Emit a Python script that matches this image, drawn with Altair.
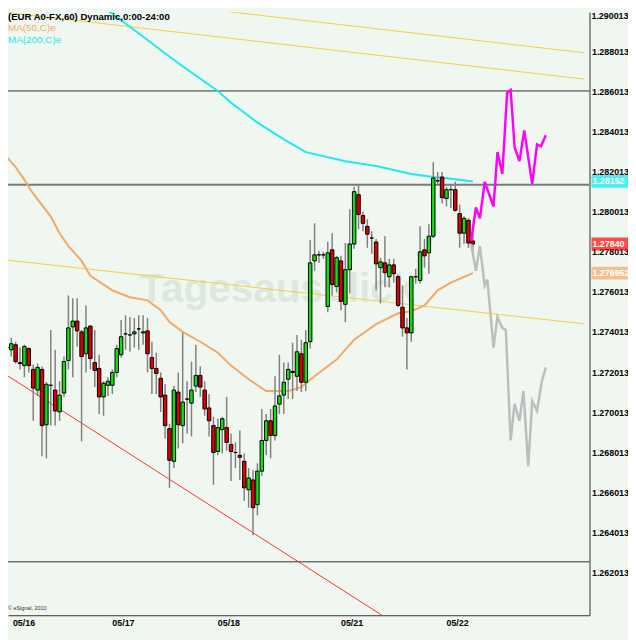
import altair as alt
import pandas as pd

# ---------------- data ----------------
idx = list(range(107))
opens = [1.27324, 1.27313, 1.27338, 1.27244, 1.27234, 1.27319, 1.27215, 1.27112, 1.27215, 1.26939,
         1.27136, 1.27112, 1.27003, 1.27097, 1.27259, 1.27427, 1.27456, 1.27402, 1.27293, 1.27431,
         1.27249, 1.27220, 1.27078, 1.27136, 1.27136, 1.27200, 1.27288, 1.27392, 1.27387, 1.27392,
         1.27417, 1.27397, 1.27407, 1.27274, 1.27220, 1.27171, 1.27087, 1.26920, 1.26757, 1.27102,
         1.26935, 1.27067, 1.27047, 1.27132, 1.27185, 1.27112, 1.27023, 1.26935, 1.26806, 1.26915,
         1.26925, 1.26841, 1.26801, 1.26787, 1.26757, 1.26615, 1.26664, 1.26541, 1.26708, 1.26861,
         1.26959, 1.26886, 1.27042, 1.27087, 1.27166, 1.27205, 1.27181, 1.27293, 1.27151, 1.27353,
         1.27756, 1.27786, 1.27786, 1.27529, 1.27811, 1.27628, 1.27756, 1.27539, 1.27712, 1.27840,
         1.28086, 1.27982, 1.27928, 1.27870, 1.27850, 1.27722, 1.27746, 1.27677, 1.27736, 1.27677,
         1.27525, 1.27422, 1.27397, 1.27677, 1.27658, 1.27811, 1.27796, 1.27879, 1.28155, 1.28174,
         1.28067, 1.28111, 1.28111, 1.27992, 1.27894, 1.27958, 1.27855]
highs = [1.27348, 1.27373, 1.27353, 1.27324, 1.27338, 1.27324, 1.27239, 1.27244, 1.27230, 1.27151,
         1.27412, 1.27313, 1.27156, 1.27279, 1.27584, 1.27570, 1.27570, 1.27412, 1.27534, 1.27436,
         1.27412, 1.27288, 1.27156, 1.27176, 1.27215, 1.27338, 1.27461, 1.27485, 1.27476, 1.27471,
         1.27485, 1.27485, 1.27471, 1.27353, 1.27298, 1.27200, 1.27141, 1.26944, 1.27132, 1.27200,
         1.27397, 1.27156, 1.27254, 1.27338, 1.27230, 1.27156, 1.27092, 1.26979, 1.26969, 1.26979,
         1.27078, 1.26895, 1.26851, 1.26910, 1.26796, 1.26723, 1.26713, 1.26747, 1.27018, 1.26993,
         1.27018, 1.27181, 1.27288, 1.27249, 1.27249, 1.27348, 1.27387, 1.27363, 1.27412, 1.27860,
         1.27943, 1.27806, 1.27801, 1.27850, 1.27894, 1.27781, 1.27781, 1.27845, 1.28013, 1.28125,
         1.28130, 1.28002, 1.27963, 1.27904, 1.27865, 1.27772, 1.27879, 1.27766, 1.27766, 1.27687,
         1.27633, 1.27471, 1.27682, 1.27717, 1.27928, 1.27865, 1.27938, 1.28248, 1.28199, 1.28199,
         1.28125, 1.28135, 1.28150, 1.28037, 1.27978, 1.27968, 1.27904]
lows = [1.27303, 1.27279, 1.27244, 1.27215, 1.27176, 1.27200, 1.26959, 1.27083, 1.26782, 1.26772,
        1.26935, 1.26935, 1.26959, 1.27078, 1.27215, 1.27176, 1.27329, 1.26856, 1.27200, 1.27215,
        1.27127, 1.26993, 1.26984, 1.27083, 1.27092, 1.27176, 1.27274, 1.27313, 1.27303, 1.27324,
        1.27313, 1.27338, 1.27200, 1.27092, 1.27092, 1.27003, 1.26871, 1.26625, 1.26723, 1.26821,
        1.26846, 1.26895, 1.26881, 1.27102, 1.27078, 1.26984, 1.26881, 1.26640, 1.26787, 1.26796,
        1.26811, 1.26659, 1.26723, 1.26664, 1.26560, 1.26526, 1.26389, 1.26487, 1.26684, 1.26787,
        1.26772, 1.26861, 1.26993, 1.26993, 1.27067, 1.27067, 1.27107, 1.27102, 1.27107, 1.27319,
        1.27707, 1.27746, 1.27766, 1.27500, 1.27584, 1.27599, 1.27510, 1.27451, 1.27594, 1.27816,
        1.27914, 1.27904, 1.27821, 1.27791, 1.27609, 1.27544, 1.27624, 1.27624, 1.27648, 1.27525,
        1.27378, 1.27215, 1.27353, 1.27643, 1.27643, 1.27722, 1.27692, 1.27870, 1.28140, 1.28042,
        1.28027, 1.28018, 1.28002, 1.27821, 1.27840, 1.27821, 1.27796]
closes = [1.27324, 1.27343, 1.27254, 1.27249, 1.27329, 1.27234, 1.27122, 1.27225, 1.26935, 1.27141,
          1.27136, 1.27008, 1.27087, 1.27254, 1.27422, 1.27456, 1.27407, 1.27279, 1.27422, 1.27269,
          1.27210, 1.27078, 1.27146, 1.27156, 1.27200, 1.27319, 1.27378, 1.27392, 1.27387, 1.27402,
          1.27417, 1.27402, 1.27293, 1.27220, 1.27195, 1.27078, 1.26935, 1.26762, 1.27112, 1.26939,
          1.27052, 1.27067, 1.27112, 1.27185, 1.27127, 1.27018, 1.26959, 1.26801, 1.26925, 1.26969,
          1.26851, 1.26806, 1.26801, 1.26777, 1.26625, 1.26674, 1.26526, 1.26708, 1.26861, 1.26959,
          1.26886, 1.27033, 1.27083, 1.27151, 1.27215, 1.27200, 1.27303, 1.27151, 1.27348, 1.27746,
          1.27786, 1.27786, 1.27786, 1.27796, 1.27638, 1.27772, 1.27554, 1.27712, 1.27840, 1.28101,
          1.27987, 1.27943, 1.27889, 1.27870, 1.27741, 1.27751, 1.27697, 1.27736, 1.27692, 1.27534,
          1.27422, 1.27397, 1.27677, 1.27677, 1.27801, 1.27781, 1.27879, 1.28169, 1.28155, 1.28071,
          1.28111, 1.28111, 1.28008, 1.27894, 1.27968, 1.27845, 1.27840]

ma50_idx = [0, 2, 4, 6, 10, 12, 14, 17, 19, 24, 28, 32, 35, 37, 40, 44, 48, 51, 55, 59,
            64, 67, 70, 75, 79, 84, 89, 92, 95, 98, 101, 106]
ma50_val = [1.28273, 1.28224, 1.28160, 1.28091, 1.27977, 1.27894, 1.27830, 1.27756, 1.27682, 1.27609,
            1.27575, 1.27559, 1.27510, 1.27451, 1.27402, 1.27353, 1.27298, 1.27234, 1.27166, 1.27107,
            1.27107, 1.27127, 1.27181, 1.27264, 1.27363, 1.27441, 1.27495, 1.27505, 1.27534, 1.27609,
            1.27648, 1.27695]
ma200_idx = [18, 21, 28, 39, 48, 51, 57, 63, 68, 77, 84, 88, 92, 97, 101, 106]
ma200_val = [1.29080, 1.29036, 1.28923, 1.28741, 1.28603, 1.28544, 1.28445, 1.28362, 1.28298, 1.28253,
             1.28229, 1.28209, 1.28189, 1.28174, 1.28165, 1.28152]

bull_idx = [105.6, 106.7, 107.6, 108.7, 110.7, 111.6, 112.7, 113.8, 114.6, 115.5, 116.6, 117.7,
            119.5, 120.6, 121.5, 122.6]
bull_val = [1.27855, 1.28022, 1.27968, 1.28150, 1.28027, 1.28298, 1.28189, 1.28593, 1.28608, 1.28322,
            1.28253, 1.28406, 1.28140, 1.28337, 1.28327, 1.28382]
bear_idx = [105.6, 106.7, 107.6, 108.7, 109.3, 110.7, 111.6, 112.7, 113.5, 114.6, 115.5, 116.6,
            117.5, 118.6, 119.5, 120.6, 121.7, 122.6]
bear_val = [1.27840, 1.27707, 1.27830, 1.27633, 1.27663, 1.27324, 1.27476, 1.27422, 1.27412, 1.26861,
            1.27043, 1.26959, 1.27107, 1.26733, 1.27058, 1.27009, 1.27156, 1.27225]

channel_idx = [-0.375, 131.4]
channel_a = [1.29127, 1.28793]
channel_b = [1.28995, 1.28662]
channel_c = [1.27761, 1.27442]
trend_idx = [-0.375, 85.3]
trend_val = [1.27191, 1.25990]

hline_dark = [1.28603, 1.26256]
hline_gray = [1.28135]

ytick_vals = [1.262013, 1.264013, 1.266013, 1.268013, 1.270013, 1.272013, 1.274013,
              1.276013, 1.278013, 1.280013, 1.282013, 1.284013, 1.286013, 1.288013, 1.290013]
day_idx = [0, 24, 48, 76, 100]
day_lab = ["05/16", "05/17", "05/18", "05/21", "05/22"]

box_val = [1.28152, 1.27840, 1.276952]
box_lab = ["1.28152", "1.27840", "1.276952"]
box_col = ["#00eeee", "#ff0000", "#f4a866"]

header_txt = "(EUR A0-FX,60) Dynamic,0:00-24:00"
legend_txt = ["MA(50,C)e", "MA(200,C)e"]
legend_col = ["#f4a866", "#20e8ee"]
copyright_txt = "\u00a9 eSignal, 2010"

# ---------------- chart ----------------
BG = "#f0f7f0"
FONT = "Liberation Sans"
XD = [1.391, 131.41]
YD = [1.259897, 1.289964]
xs = alt.Scale(domain=XD, nice=False, zero=False)
ys = alt.Scale(domain=YD, nice=False, zero=False)

X_AX = alt.Axis(orient="bottom", values=[24], labels=False, ticks=False, grid=False, title=None,
                domain=True, domainColor="#303030", domainWidth=1)
Y_AX = alt.Axis(orient="right", values=ytick_vals[:-1], labelExpr="format(datum.value, '.6f')",
                labelFont=FONT, labelFontWeight="bold", labelFontSize=9, labelColor="#000000",
                ticks=False, labelPadding=2, grid=False, title=None, labelFlush=False,
                labelOverlap=False, domain=True, domainColor="#303030", domainWidth=1)

candles = pd.DataFrame({"i": idx, "o": opens, "h": highs, "l": lows, "c": closes})
candles["dir"] = ["up" if c > o else ("down" if c < o else "flat") for o, c in zip(opens, closes)]


def line_df(xv, yv):
    return pd.DataFrame({"i": xv, "p": yv})


def line_layer(df, color, width):
    return alt.Chart(df).mark_line(color=color, strokeWidth=width, clip=True).encode(
        x=alt.X("i:Q", scale=xs, axis=X_AX),
        y=alt.Y("p:Q", scale=ys, axis=Y_AX),
    )


def text_layer(txt, x, y, color, size, weight="normal"):
    return alt.Chart(pd.DataFrame({"t": [txt]})).mark_text(
        align="left", baseline="top", font=FONT, fontSize=size, fontWeight=weight, color=color
    ).encode(x=alt.value(x), y=alt.value(y), text="t:N")


watermark = alt.Chart(pd.DataFrame({"t": ["Tagesausblick"]})).mark_text(
    align="left", baseline="alphabetic", font=FONT, fontSize=41, fontWeight="bold", color="#dde8dd"
).encode(x=alt.value(133), y=alt.value(294), text="t:N")

ch_a = line_layer(line_df(channel_idx, channel_a), "#f0d040", 1)
ch_b = line_layer(line_df(channel_idx, channel_b), "#f0d040", 1)
ch_c = line_layer(line_df(channel_idx, channel_c), "#f0d040", 1)
trend = line_layer(line_df(trend_idx, trend_val), "#ff3030", 1)

hdark = alt.Chart(pd.DataFrame({"p": hline_dark})).mark_rule(color="#303030", strokeWidth=1, clip=True).encode(
    y=alt.Y("p:Q", scale=ys, axis=Y_AX))
hgray = alt.Chart(pd.DataFrame({"p": hline_gray})).mark_rule(color="#7a7a7a", strokeWidth=2, clip=True).encode(
    y=alt.Y("p:Q", scale=ys, axis=Y_AX))

ma50 = line_layer(line_df(ma50_idx, ma50_val), "#f4a866", 2)
ma200 = line_layer(line_df(ma200_idx, ma200_val), "#20e8ee", 2)

wicks = alt.Chart(candles).mark_rule(color="#808080", strokeWidth=1.5, clip=True).encode(
    x=alt.X("i:Q", scale=xs, axis=X_AX),
    y=alt.Y("l:Q", scale=ys, axis=Y_AX),
    y2="h:Q",
)

bodies = alt.Chart(candles).mark_bar(size=3.5, stroke="#000000", strokeWidth=1, clip=True).encode(
    x=alt.X("i:Q", scale=xs, axis=X_AX),
    y=alt.Y("o:Q", scale=ys, axis=Y_AX),
    y2="c:Q",
    color=alt.Color("dir:N", scale=alt.Scale(domain=["up", "down", "flat"],
                                             range=["#10e010", "#e00000", "#000000"]), legend=None),
)

bull = line_layer(line_df(bull_idx, bull_val), "#ff00ff", 2.5)
bear = line_layer(line_df(bear_idx, bear_val), "#bdbdbd", 2.5)

days = pd.DataFrame({"i": day_idx, "lab": day_lab})
days["ix"] = [max(v, XD[0]) for v in day_idx]
day_text = alt.Chart(days).mark_text(
    align="left", baseline="top", font=FONT, fontSize=9, fontWeight="bold", color="#000000"
).encode(x=alt.X("ix:Q", scale=xs, axis=X_AX), y=alt.value(615), text="lab:N")

boxes_df = pd.DataFrame({"p": box_val, "lab": box_lab, "col": box_col})
boxes = alt.Chart(boxes_df).mark_tick(orient="horizontal", thickness=13, size=37).encode(
    x=alt.value(609.5), y=alt.Y("p:Q", scale=ys, axis=Y_AX),
    color=alt.Color("col:N", scale=None))
box_text = alt.Chart(boxes_df).mark_text(
    align="left", baseline="middle", font=FONT, fontSize=9, fontWeight="bold", color="#ffffff"
).encode(x=alt.value(592), y=alt.Y("p:Q", scale=ys, axis=Y_AX), text="lab:N")

# top tick label lies above the drawable area; keep it as text at the very top
top_label = text_layer(f"{ytick_vals[-1]:.6f}", 591, 0, "#000000", 9, "bold")

t_header = text_layer(header_txt, 0, 0, "#000000", 9.7, "bold")
t_ma50 = text_layer(legend_txt[0], 0, 11, legend_col[0], 10)
t_ma200 = text_layer(legend_txt[1], 0, 23, legend_col[1], 10)
t_copy = text_layer(copyright_txt, 0, 602, "#333333", 5.5)

chart = alt.layer(
    watermark, ch_a, ch_b, ch_c, hdark, hgray, trend, ma50, ma200,
    wicks, bodies, bull, bear, day_text, boxes, box_text, top_label,
    t_header, t_ma50, t_ma200, t_copy
).resolve_scale(color="independent").properties(
    width=589, height=611,
    autosize=alt.AutoSizeParams(type="none"),
    padding={"left": 0, "top": 0, "right": 39, "bottom": 21},
).configure(background=BG).configure_view(stroke=None, fill=BG)

chart.save("out.html", embed_options={"renderer": "svg", "actions": False})
